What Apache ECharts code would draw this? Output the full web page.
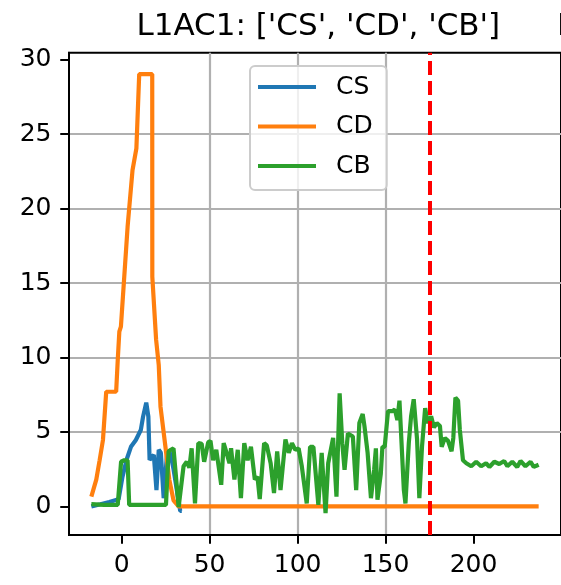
<!DOCTYPE html>
<html><head><meta charset="utf-8">
<script src="https://cdn.jsdelivr.net/npm/echarts@6/dist/echarts.min.js"></script>
<style>html,body{margin:0;padding:0;background:#fff}#c{width:561px;height:585px}</style>
</head><body><div id="c"></div>
<script>
const FONT = 'DejaVu Sans';
const titleText = "L1AC1: ['CS', 'CD', 'CB']";
const nextTitleText = "L";
const seriesNames = ['CS', 'CD', 'CB'];
const xTicks = [0, 50, 100, 150, 200];
const yTicks = [0, 5, 10, 15, 20, 25, 30];
const vlineX = [175];

const csX = [-17.2, -12, -7, -1.7, 0.5, 3.0, 5.3, 8.1, 10.9, 12.2, 14.0, 15.2, 15.9, 18.3, 19.8, 21.1, 22.3, 23.9, 25.8, 27.7, 29.5, 31.5, 33.3, 34.2];
const csY = [0.0, 0.15, 0.3, 0.48, 2.0, 3.2, 4.0, 4.46, 5.13, 6.03, 6.97, 6.03, 3.12, 3.46, 1.1, 3.8, 3.6, 0.55, 3.5, 3.6, 2.5, 1.0, -0.3, -0.3];

const cdX = [-17.2, -14.4, -12.5, -10.6, -8.75, -3.1, -2.2, -1.3, -0.4, 3.4, 6.2, 8.4, 10.0, 17.4, 17.45, 19.6, 21.1, 22.1, 24.9, 27.1, 29.5, 32.4, 237];
const cdY = [0.66, 1.8, 3.1, 4.46, 7.7, 7.7, 9.83, 11.73, 12.07, 18.78, 22.58, 24.04, 29.03, 29.03, 15.42, 11.2, 9.5, 6.7, 4.0, 1.8, 0.4, 0.0, 0.0];

const cbX = [-17.2, -10, -2.2, -0.3, 1.5, 3.4, 4.3, 25.2, 26.7, 28, 29.5, 32.4, 35.2, 37, 38.5, 39.8, 41.7, 43.6, 45.5, 46.9, 49.2, 50.5, 52, 53.8, 56.6, 58, 59.4, 61.3, 62.2, 64.1, 66, 67.8, 69.7, 71.6, 73.5, 75.7, 77.2, 78.5, 81, 82.5, 84.7, 86.6, 88.4, 90.3, 93.1, 95, 96.8, 98.7, 100.6, 102.4, 105.2, 107.1, 109, 111.8, 113.7, 115.9, 117.4, 120.2, 122.1, 123.9, 125.4, 126.7, 128.6, 131.4, 133.3, 135.1, 137, 138, 139.8, 141.7, 143.5, 144.5, 145.4, 147.3, 148.2, 149.5, 151.4, 153.9, 155.3, 156.7, 157.9, 160.4, 161.3, 163.2, 164.5, 166, 167.9, 169.2, 170.7, 172.5, 174, 175.9, 177.5, 179.1, 180.9, 181.9, 183.7, 185.5, 187.5, 188.5, 189.7, 191.2, 192.2, 193, 194, 195.9, 198.7, 201.5, 204.3, 207.1, 209.0, 211.8, 214.6, 217.4, 219.2, 222.0, 224.8, 226.7, 229.5, 232.4, 234.2, 237.0];
const cbY = [0.15, 0.1, 0.1, 3.0, 3.1, 3.1, 0.1, 0.1, 3.7, 3.8, 3.9, -0.05, 2.7, 3.0, 2.6, 3.9, 0.2, 4.25, 4.2, 3.0, 4.3, 4.4, 3.1, 3.8, 1.45, 4.25, 3.7, 2.9, 3.9, 1.8, 3.8, 0.55, 4.25, 3.1, 4.0, 1.8, 2.0, 0.5, 4.25, 4.1, 2.9, 0.9, 3.7, 1.1, 4.5, 3.6, 4.25, 3.8, 3.9, 2.7, 0.2, 4.0, 4.0, 0.1, 3.6, -0.45, 2.9, 4.6, 0.65, 7.6, 4.25, 2.45, 4.9, 4.7, 1.1, 5.6, 6.2, 5.4, 3.6, 0.55, 2.45, 3.9, 0.45, 2.2, 4.0, 4.0, 6.4, 6.4, 6.5, 5.8, 7.1, 1.1, 0.2, 4.25, 6.05, 7.2, 4.5, 0.55, 4.0, 6.6, 5.6, 6.05, 5.3, 5.6, 5.4, 4.0, 4.6, 4.4, 3.7, 4.6, 7.3, 7.1, 5.15, 5.1, 3.1, 2.9, 2.7, 3.0, 2.7, 2.9, 2.65, 3.0, 2.85, 3.05, 2.7, 3.0, 2.65, 3.05, 2.7, 3.0, 2.65, 2.8];

const colors = ['#1f77b4', '#ff7f0e', '#2ca02c'];
const pairs = (xs, ys) => xs.map((x, i) => [x, ys[i]]);
const LW = 4.2;

const chart = echarts.init(document.getElementById('c'), null, {renderer: 'canvas'});
const axisCommon = {
  type: 'value',
  axisLine: {show: true, onZero: false, lineStyle: {color: '#000', width: 2}},
  splitLine: {show: true, showMinLine: false, showMaxLine: false, lineStyle: {color: '#b0b0b0', width: 2.2}},
};
chart.setOption({
  animation: false,
  backgroundColor: '#fff',
  grid: {left: 69, top: 52.7, width: 498.6, height: 482.3, show: true, borderColor: '#000', borderWidth: 2, backgroundColor: 'transparent'},
  xAxis: Object.assign({}, axisCommon, {
    min: -29.9, max: 249.7,
    axisTick: {show: true, length: 8.75, lineStyle: {color: '#000', width: 2}, customValues: xTicks},
    axisLabel: {customValues: xTicks, fontSize: 25, color: '#000', fontFamily: FONT, margin: 17.5},
  }),
  yAxis: Object.assign({}, axisCommon, {
    min: -1.92, max: 30.47,
    axisTick: {show: true, length: 8.75, lineStyle: {color: '#000', width: 2}, customValues: yTicks},
    axisLabel: {customValues: yTicks, fontSize: 25, color: '#000', fontFamily: FONT, margin: 17.5},
  }),
  legend: {
    data: seriesNames, orient: 'vertical', left: 250, top: 66,
    icon: 'rect', itemWidth: 58, itemHeight: LW, itemGap: 11.5,
    padding: [7, 14, 10, 8],
    backgroundColor: 'rgba(255,255,255,0.8)', borderColor: '#cccccc', borderWidth: 2, borderRadius: 5,
    textStyle: {fontSize: 25, color: '#000', fontFamily: FONT, lineHeight: 28, padding: [0, 0, 0, 15]},
  },
  graphic: [
    {type: 'text', x: 318.3, y: 27, style: {text: titleText, fontSize: 31, fontFamily: FONT, fill: '#000', align: 'center', verticalAlign: 'middle'}},
    {type: 'text', x: 557, y: 27, style: {text: nextTitleText, fontSize: 31, fontFamily: FONT, fill: '#000', align: 'left', verticalAlign: 'middle'}},
  ],
  series: [
    {name: seriesNames[0], type: 'line', data: pairs(csX, csY), showSymbol: false, color: colors[0], lineStyle: {width: LW, color: colors[0]}, z: 2},
    {name: seriesNames[1], type: 'line', data: pairs(cdX, cdY), showSymbol: false, color: colors[1], lineStyle: {width: LW, color: colors[1]}, z: 3},
    {name: seriesNames[2], type: 'line', data: pairs(cbX, cbY), showSymbol: false, color: colors[2], lineStyle: {width: LW, color: colors[2]}, z: 4,
     markLine: {silent: true, symbol: 'none', label: {show: false}, lineStyle: {color: 'red', type: [14, 6], width: 4}, data: vlineX.map(v => ({xAxis: v}))}},
  ],
});
</script>
</body></html>
